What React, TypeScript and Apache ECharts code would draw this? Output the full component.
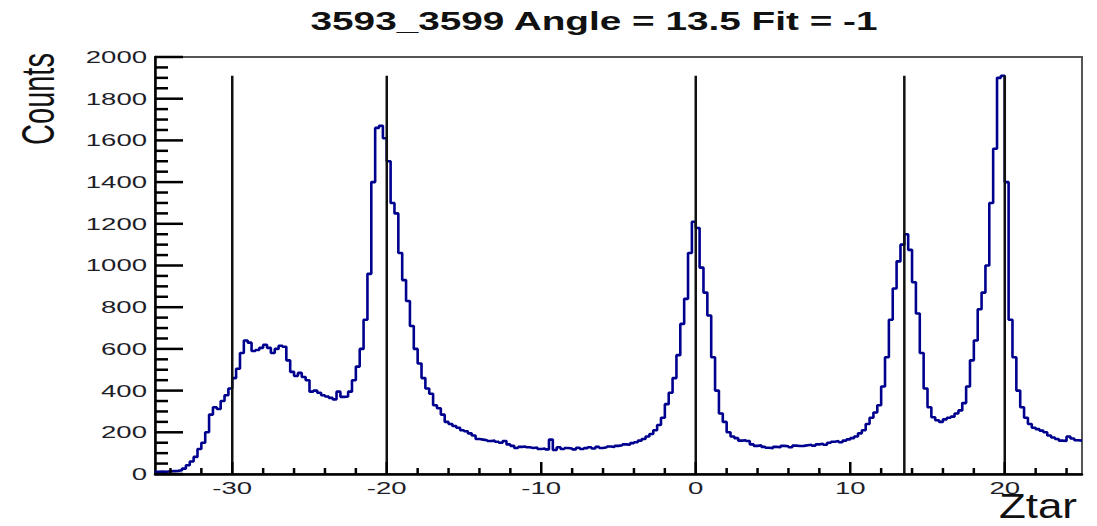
import React, { useEffect, useRef } from "react";
import * as echarts from "echarts";

// ---------- data ----------
const binStart = -35;
const binWidth = 0.25;

// counts per 0.25-wide bin (each row spans 5 units of Ztar)
const countsA = [10, 12, 11, 13, 14, 15, 18, 26, 42, 60, 82, 120, 150, 200, 285, 320, 312, 350, 378, 410]; // -35..-30
const countsB = [460, 505, 580, 640, 630, 590, 595, 605, 620, 605, 580, 600, 615, 610, 545, 490, 470, 485, 465, 450]; // -30..-25
const countsC = [395, 400, 390, 378, 372, 365, 358, 395, 370, 372, 395, 450, 515, 600, 740, 960, 1400, 1660, 1670, 1610]; // -25..-20
const countsD = [1500, 1300, 1250, 1060, 930, 830, 710, 600, 530, 460, 410, 385, 330, 315, 285, 250, 240, 230, 222, 210]; // -20..-15
const countsE = [205, 195, 185, 168, 165, 162, 158, 160, 155, 150, 158, 142, 135, 125, 130, 132, 128, 125, 127, 120]; // -15..-10
const countsF = [122, 118, 165, 115, 128, 120, 125, 122, 118, 126, 120, 124, 128, 122, 130, 125, 128, 132, 130, 135]; // -10..-5
const countsG = [138, 142, 140, 148, 152, 160, 168, 180, 192, 210, 235, 270, 335, 390, 460, 570, 720, 840, 1060, 1210]; // -5..0
const countsH = [1180, 990, 870, 760, 560, 400, 290, 250, 200, 180, 172, 160, 162, 158, 142, 135, 138, 130, 126, 124]; // 0..5
const countsI = [130, 128, 135, 133, 128, 136, 134, 135, 138, 140, 136, 142, 145, 140, 150, 155, 158, 152, 160, 166]; // 5..10
const countsJ = [172, 180, 195, 210, 240, 270, 295, 330, 420, 560, 740, 890, 1020, 1100, 1150, 1075, 920, 770, 580, 410]; // 10..15
const countsK = [320, 272, 258, 250, 262, 270, 275, 290, 305, 340, 420, 545, 640, 790, 870, 1000, 1300, 1560, 1900, 1910]; // 15..20
const countsL = [1400, 740, 560, 400, 320, 270, 240, 222, 215, 208, 200, 185, 175, 168, 160, 158, 180, 170, 162, 160]; // 20..25

const markerPositions = [-30, -20, 0, 13.5, 20];
const markerTop = 1910;

const xRange = [-35, 25];
const yRange = [0, 2000];
const xMajorTicks = [-30, -20, -10, 0, 10, 20];
const xMinorTicks = [-34, -32, -28, -26, -24, -22, -18, -16, -14, -12, -8, -6, -4, -2, 2, 4, 6, 8, 12, 14, 16, 18, 22, 24];
const xTickLabels = ["-30", "-20", "-10", "0", "10", "20"];
const yTicks = [0, 200, 400, 600, 800, 1000, 1200, 1400, 1600, 1800, 2000];
const yMinorTicks = [
  50, 100, 150, 250, 300, 350, 450, 500, 550, 650, 700, 750, 850, 900, 950,
  1050, 1100, 1150, 1250, 1300, 1350, 1450, 1500, 1550, 1650, 1700, 1750, 1850, 1900, 1950,
];
const yTickLabels = ["0", "200", "400", "600", "800", "1000", "1200", "1400", "1600", "1800", "2000"];

const titleText = "3593_3599 Angle = 13.5 Fit = -1";
const yTitle = "Counts";
const xTitle = "Ztar";

const FONT = "'Liberation Sans', Arial, Helvetica, sans-serif";
const STRETCH = 1.62;

export default function App() {
  const ref = useRef<HTMLDivElement>(null);

  useEffect(() => {
    if (!ref.current) return;
    const chart = echarts.init(ref.current, null, { renderer: "svg" });

    const counts = [
      ...countsA, ...countsB, ...countsC, ...countsD, ...countsE, ...countsF,
      ...countsG, ...countsH, ...countsI, ...countsJ, ...countsK, ...countsL,
    ];
    const histData: number[][] = counts.map((v, i) => [binStart + i * binWidth, v]);
    histData.push([binStart + counts.length * binWidth, counts[counts.length - 1]]);

    const segment = (pts: number[][], width: number, color: string) => ({
      type: "line",
      data: pts,
      symbol: "none",
      silent: true,
      clip: false,
      z: 3,
      lineStyle: { color, width },
    });

    const baseSeries: any[] = [
      {
        type: "line",
        data: histData,
        step: "end",
        symbol: "none",
        silent: true,
        z: 2,
        lineStyle: { color: "#00008f", width: 2.6 },
      },
      ...markerPositions.map((x) => segment([[x, 0], [x, markerTop]], 2.5, "#111")),
    ];

    chart.setOption({
      animation: false,
      backgroundColor: "#ffffff",
      grid: {
        left: 155,
        right: 15,
        top: 57,
        bottom: 52,
        show: true,
        borderColor: "#555",
        borderWidth: 2,
        backgroundColor: "transparent",
      },
      xAxis: {
        type: "value",
        min: xRange[0],
        max: xRange[1],
        axisLine: { show: true, onZero: false, lineStyle: { color: "#000", width: 2.5 } },
        axisTick: { show: false },
        axisLabel: { show: false },
        splitLine: { show: false },
      },
      yAxis: {
        type: "value",
        min: yRange[0],
        max: yRange[1],
        interval: 200,
        axisLine: { show: true, onZero: false, lineStyle: { color: "#000", width: 2.5 } },
        axisTick: { show: false },
        axisLabel: { show: false },
        splitLine: { show: false },
      },
      series: baseSeries,
    });

    const toX = (v: number) => chart.convertToPixel({ xAxisIndex: 0 }, v) as number;
    const toY = (v: number) => chart.convertToPixel({ yAxisIndex: 0 }, v) as number;
    const xUnitsPerPx = (xRange[1] - xRange[0]) / Math.abs(toX(xRange[1]) - toX(xRange[0]));
    const yUnitsPerPx = (yRange[1] - yRange[0]) / Math.abs(toY(yRange[0]) - toY(yRange[1]));

    // each tick is its own two-point line series, the same form as the marker lines
    const tickSeries: any[] = [
      ...yTicks.map((v) => segment([[xRange[0], v], [xRange[0] + 28 * xUnitsPerPx, v]], 2.5, "#000")),
      ...yMinorTicks.map((v) => segment([[xRange[0], v], [xRange[0] + 13 * xUnitsPerPx, v]], 2.5, "#000")),
      ...xMajorTicks.map((v) => segment([[v, yRange[0]], [v, yRange[0] + 12 * yUnitsPerPx]], 2.5, "#000")),
      ...xMinorTicks.map((v) => segment([[v, yRange[0]], [v, yRange[0] + 6 * yUnitsPerPx]], 2.5, "#000")),
    ];

    const graphics: any[] = [];
    yTicks.forEach((v, i) => {
      graphics.push({
        type: "text",
        x: 147,
        y: toY(v),
        scaleX: STRETCH,
        style: { text: yTickLabels[i], align: "right", verticalAlign: "middle", fontSize: 17, fontFamily: FONT, fill: "#1e1e28" },
      });
    });
    xMajorTicks.forEach((v, i) => {
      graphics.push({
        type: "text",
        x: toX(v),
        y: 488,
        scaleX: STRETCH,
        style: { text: xTickLabels[i], align: "center", verticalAlign: "middle", fontSize: 17, fontFamily: FONT, fill: "#1e1e28" },
      });
    });
    graphics.push({
      type: "text",
      x: 594,
      y: 21,
      scaleX: 1.55,
      style: { text: titleText, align: "center", verticalAlign: "middle", fontSize: 25, fontWeight: "bold", fontFamily: FONT, fill: "#111" },
    });
    graphics.push({
      type: "text",
      x: 38,
      y: 99,
      rotation: Math.PI / 2,
      scaleY: STRETCH,
      style: { text: yTitle, align: "center", verticalAlign: "middle", fontSize: 29, fontFamily: FONT, fill: "#111" },
    });
    graphics.push({
      type: "text",
      x: 1077,
      y: 488,
      scaleX: 1.22,
      style: { text: xTitle, align: "right", verticalAlign: "top", fontSize: 36, fontFamily: FONT, fill: "#111" },
    });

    chart.setOption({
      series: [...baseSeries, ...tickSeries],
      graphic: graphics,
    });

    return () => chart.dispose();
  }, []);

  return (
    <div
      ref={ref}
      style={{ position: "absolute", left: 0, top: 0, width: 1097, height: 526, background: "#fff" }}
    />
  );
}
